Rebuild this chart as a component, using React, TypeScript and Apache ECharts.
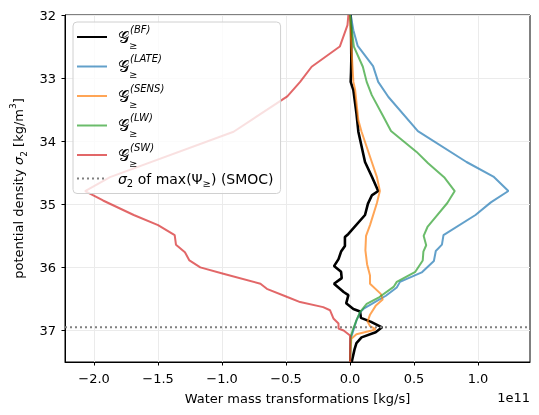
import React, { useEffect, useRef } from "react";
import * as echarts from "echarts";

// ---- data (x in units of 1e11 kg/s, y = sigma_2) ----
const bfSigma = [32.0, 32.2, 32.71, 32.9, 33.06, 33.19, 33.56, 33.85, 34.33, 34.56, 34.79, 34.86, 34.99, 35.17, 35.47, 35.52, 35.66, 35.75, 35.87, 35.98, 36.07, 36.17, 36.26, 36.39, 36.44, 36.57, 36.66, 36.7, 36.8, 36.86, 36.95, 37.03, 37.11, 37.2, 37.3, 37.5];
const bfValue = [0.005, 0.008, 0.01, 0.008, 0.005, 0.026, 0.05, 0.065, 0.117, 0.17, 0.22, 0.17, 0.14, 0.117, -0.013, -0.04, -0.04, -0.07, -0.09, -0.125, -0.07, -0.065, -0.125, -0.05, -0.013, -0.03, 0.026, 0.078, 0.085, 0.16, 0.25, 0.2, 0.09, 0.05, 0.035, 0.013];

const lateSigma = [32.0, 32.24, 32.49, 32.81, 33.06, 33.3, 33.84, 34.33, 34.56, 34.79, 34.97, 35.17, 35.49, 35.64, 35.74, 35.9, 36.08, 36.23, 36.32, 36.45, 36.58, 36.65, 36.71, 36.84, 37.0, 37.13, 37.5];
const lateValue = [0.005, 0.026, 0.06, 0.18, 0.22, 0.3, 0.53, 0.91, 1.12, 1.237, 1.1, 0.98, 0.73, 0.718, 0.67, 0.655, 0.56, 0.39, 0.365, 0.28, 0.17, 0.11, 0.08, 0.05, 0.026, 0.005, 0.0];

const sensSigma = [32.0, 32.5, 33.06, 33.19, 33.67, 33.85, 34.33, 34.57, 34.79, 34.98, 35.33, 35.5, 35.73, 35.95, 36.13, 36.26, 36.42, 36.51, 36.61, 36.75, 36.86, 36.93, 36.98, 37.0, 37.06, 37.13, 37.5];
const sensValue = [0.0, 0.01, 0.026, 0.04, 0.065, 0.09, 0.17, 0.21, 0.233, 0.21, 0.156, 0.125, 0.12, 0.133, 0.156, 0.156, 0.24, 0.255, 0.2, 0.156, 0.137, 0.156, 0.2, 0.17, 0.05, 0.01, 0.0];

const lwSigma = [32.0, 32.5, 32.82, 33.06, 33.27, 33.61, 33.84, 34.17, 34.35, 34.57, 34.79, 34.98, 35.2, 35.36, 35.5, 35.65, 35.75, 35.89, 36.07, 36.23, 36.31, 36.47, 36.58, 36.71, 36.84, 37.0, 37.1, 37.5];
const lwValue = [0.0, 0.03, 0.1, 0.13, 0.17, 0.26, 0.32, 0.52, 0.61, 0.735, 0.818, 0.76, 0.67, 0.605, 0.575, 0.595, 0.573, 0.568, 0.51, 0.365, 0.34, 0.23, 0.13, 0.078, 0.05, 0.02, 0.005, 0.0];

const swSigma = [32.0, 32.16, 32.5, 32.82, 33.06, 33.29, 33.85, 34.57, 34.79, 34.94, 35.17, 35.33, 35.49, 35.64, 35.76, 35.89, 36.0, 36.1, 36.26, 36.34, 36.47, 36.55, 36.63, 36.68, 36.81, 36.89, 36.97, 37.0, 37.08, 37.5];
const swValue = [-0.013, -0.02, -0.08, -0.3, -0.39, -0.49, -0.91, -1.875, -2.07, -1.93, -1.69, -1.5, -1.37, -1.36, -1.29, -1.255, -1.17, -0.99, -0.7, -0.65, -0.49, -0.39, -0.21, -0.156, -0.13, -0.09, -0.09, -0.05, 0.0, 0.0];

const smocSigma = 36.95;

const xTicks = [-2.0, -1.5, -1.0, -0.5, 0.0, 0.5, 1.0];
const yTicks = [32, 33, 34, 35, 36, 37];
const xMin = -2.227;
const xMax = 1.406;
const yMin = 32;
const yMax = 37.5;

const FONT = "DejaVu Sans";

const pairs = (vals: number[], sig: number[]) => vals.map((v, i) => [v, sig[i]]);

const gLabel = (tag: string) => `{g|𝒢}{sub|≥}{sup|(${tag})}`;
const legendLabels: Record<string, string> = {
  BF: gLabel("BF"),
  LATE: gLabel("LATE"),
  SENS: gLabel("SENS"),
  LW: gLabel("LW"),
  SW: gLabel("SW"),
  SMOC: "{s|σ}{sub2|2}{t| of max(Ψ}{sub2|≥}{t|) (SMOC)}",
};

export default function App() {
  const ref = useRef<HTMLDivElement>(null);
  useEffect(() => {
    if (!ref.current) return;
    const chart = echarts.init(ref.current, undefined, { renderer: "svg" });
    const lineSeries = (name: string, vals: number[], sig: number[], color: string, width: number, opacity: number) => ({
      name,
      type: "line",
      data: pairs(vals, sig),
      symbol: "none",
      showSymbol: false,
      color,
      lineStyle: { color, width, opacity },
      itemStyle: { color, opacity },
      emphasis: { disabled: true },
    });
    chart.setOption({
      animation: false,
      grid: {
        left: 65,
        right: 9,
        top: 15,
        bottom: 53,
        show: true,
        borderColor: "#000",
        borderWidth: 1,
        backgroundColor: "transparent",
        outerBoundsMode: "none",
      },
      xAxis: {
        type: "value",
        min: xMin,
        max: xMax,
        name: "Water mass transformations [kg/s]",
        nameLocation: "middle",
        nameGap: 30,
        nameTextStyle: { fontFamily: FONT, fontSize: 13, color: "#000" },
        axisLine: { show: true, onZero: false, lineStyle: { color: "#000", width: 1 } },
        axisTick: { show: true, length: 3.5, lineStyle: { color: "#000" }, customValues: xTicks },
        axisLabel: {
          customValues: xTicks,
          fontFamily: FONT,
          fontSize: 13,
          color: "#000",
          margin: 10,
          formatter: (v: number) => (v < 0 ? "−" : "") + Math.abs(v).toFixed(1),
        },
        splitLine: { show: true, lineStyle: { color: "#ebebeb", width: 1 } },
      },
      yAxis: {
        type: "value",
        inverse: true,
        min: yMin,
        max: yMax,
        name: "potential density {s|σ}{sub|2} [kg/m{sup|3}]",
        nameLocation: "middle",
        nameRotate: 90,
        nameGap: 35,
        nameTextStyle: {
          fontFamily: FONT,
          fontSize: 13,
          color: "#000",
          lineHeight: 20,
          rich: {
            s: { fontFamily: FONT, fontSize: 13, fontStyle: "italic", lineHeight: 20, color: "#000" },
            sub: { fontFamily: FONT, fontSize: 9, lineHeight: 11, verticalAlign: "bottom", color: "#000" },
            sup: { fontFamily: FONT, fontSize: 9, lineHeight: 13, verticalAlign: "top", color: "#000" },
          },
        },
        axisLine: { show: true, onZero: false, lineStyle: { color: "#000", width: 1 } },
        axisTick: { show: true, length: 3.5, lineStyle: { color: "#000" }, customValues: yTicks },
        axisLabel: {
          customValues: yTicks,
          fontFamily: FONT,
          fontSize: 13,
          color: "#000",
          margin: 9,
        },
        splitLine: { show: true, lineStyle: { color: "#ebebeb", width: 1 } },
      },
      legend: {
        orient: "vertical",
        left: 73,
        top: 22,
        itemWidth: 30,
        itemHeight: 14,
        itemGap: 3.5,
        padding: [2, 7, 5, 3],
        backgroundColor: "rgba(255,255,255,0.8)",
        borderColor: "#d0d0d0",
        borderWidth: 1,
        borderRadius: 4,
        itemStyle: { opacity: 0 },
        data: ["BF", "LATE", "SENS", "LW", "SW", "SMOC"],
        formatter: (name: string) => legendLabels[name],
        textStyle: {
          fontFamily: FONT,
          fontSize: 13,
          color: "#000",
          rich: {
            g: { fontFamily: FONT, fontSize: 16, lineHeight: 26, padding: [0, 0, 0, 6], color: "#000" },
            sub: { fontFamily: FONT, fontSize: 10, lineHeight: 14, verticalAlign: "bottom", width: 1, color: "#000" },
            sup: { fontFamily: FONT, fontSize: 10, fontStyle: "italic", lineHeight: 16, verticalAlign: "top", color: "#000" },
            s: { fontFamily: FONT, fontSize: 14, fontStyle: "italic", lineHeight: 20, padding: [0, 0, 0, 6], color: "#000" },
            sub2: { fontFamily: FONT, fontSize: 10, lineHeight: 11, verticalAlign: "bottom", color: "#000" },
            t: { fontFamily: FONT, fontSize: 14, lineHeight: 20, color: "#000" },
          },
        },
      },
      graphic: [
        {
          type: "text",
          right: 9,
          top: 391,
          style: { text: "1e11", fontFamily: FONT, fontSize: 13, fill: "#000" },
        },
      ],
      series: [
        lineSeries("BF", bfValue, bfSigma, "#000000", 2.6, 1),
        lineSeries("LATE", lateValue, lateSigma, "#1f77b4", 2, 0.7),
        lineSeries("SENS", sensValue, sensSigma, "#ff7f0e", 2, 0.7),
        lineSeries("LW", lwValue, lwSigma, "#2ca02c", 2, 0.7),
        lineSeries("SW", swValue, swSigma, "#d62728", 2, 0.7),
        {
          name: "SMOC",
          type: "line",
          data: [
            [xMin, smocSigma],
            [xMax, smocSigma],
          ],
          symbol: "none",
          color: "#808080",
          lineStyle: { color: "#808080", width: 2, type: [2, 3] },
          emphasis: { disabled: true },
        },
      ],
    });
    return () => chart.dispose();
  }, []);
  return <div ref={ref} style={{ position: "fixed", left: 0, top: 0, width: 539, height: 415 }} />;
}
